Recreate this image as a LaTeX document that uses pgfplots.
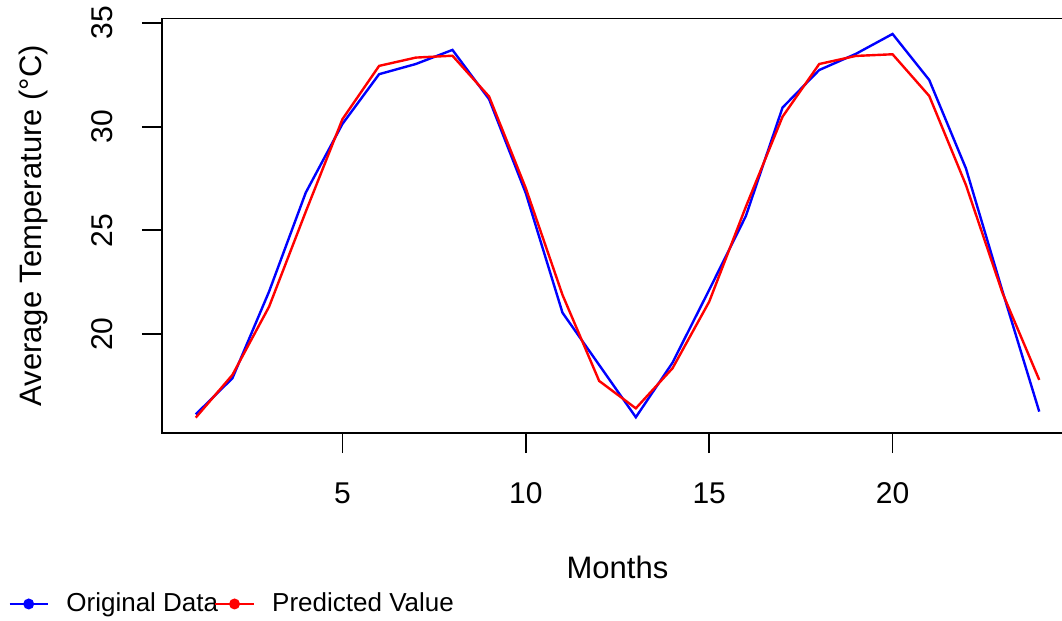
\documentclass[border=0pt]{standalone}
\usepackage{fontspec}
\setmainfont{Liberation Sans}
\usepackage{pgfplots}
\pgfplotsset{compat=1.18}
\definecolor{rblue}{RGB}{0,0,255}
\definecolor{rred}{RGB}{255,0,0}
\begin{document}
\begin{tikzpicture}
\begin{axis}[
  at={(0,0)}, anchor=south west,
  scale only axis, width=455.5pt, height=207.2pt,
  xmin=0.08, xmax=24.92, ymin=15.23, ymax=35.21,
  xtick={5,10,15,20}, ytick={20,25,30,35},
  xtick pos=left, ytick pos=left,
  tick align=outside, major tick length=10pt,
  tick style={black, line width=0.9pt},
  axis line style={line width=0.9pt},
  /pgf/number format/assume math mode=true,
  tick label style={font=\fontsize{15}{18}\selectfont},
  xticklabel style={anchor=base, yshift=-25pt},
  yticklabel style={xshift=-14.5pt, rotate=90, anchor=base},
  every axis x label/.style={at={(axis description cs:0.5,0)}, anchor=base, yshift=-72.65pt, font=\fontsize{15.5}{18}\selectfont},
  every axis y label/.style={at={(axis description cs:0,0.5)}, xshift=-60pt, rotate=90, anchor=base, font=\fontsize{15.5}{18}\selectfont},
  xlabel={Months}, ylabel={Average Temperature (°C)},
  legend columns=2,
  legend style={draw=none, fill=none, at={(-0.1687,-0.4126)}, anchor=west,
    inner sep=0pt, outer sep=0pt, font=\fontsize{13}{15}\selectfont,
    nodes={inner sep=0pt},
    /tikz/every odd column/.append style={column sep=8.65pt},
    /tikz/every even column/.append style={column sep=-2pt}},
  legend image code/.code={\draw[#1] (0pt,0pt) -- (19.2pt,0pt); \fill[#1] (9.6pt,0pt) circle (2.1pt);},
]
\addplot[rblue, line width=1.2pt] coordinates {
(1,16.13) (2,17.87) (3,22.05) (4,26.82) (5,30.13) (6,32.53) (7,33.02) (8,33.70)
(9,31.32) (10,26.79) (11,21.03) (12,18.51) (13,15.99) (14,18.62) (15,22.13) (16,25.69)
(17,30.92) (18,32.73) (19,33.51) (20,34.47) (21,32.25) (22,27.99) (23,22.05) (24,16.26)
};
\addlegendentry{Original Data}
\addplot[rred, line width=1.2pt] coordinates {
(1,15.97) (2,18.03) (3,21.32) (4,25.90) (5,30.36) (6,32.93) (7,33.33) (8,33.42)
(9,31.45) (10,27.03) (11,21.89) (12,17.74) (13,16.42) (14,18.35) (15,21.56) (16,26.14)
(17,30.48) (18,33.02) (19,33.41) (20,33.49) (21,31.48) (22,27.19) (23,21.97) (24,17.79)
};
\addlegendentry{Predicted Value}
\end{axis}
\pgfresetboundingbox
\path[use as bounding box] (-81pt,-94pt) rectangle (450pt,216.5pt);
\end{tikzpicture}
\end{document}
